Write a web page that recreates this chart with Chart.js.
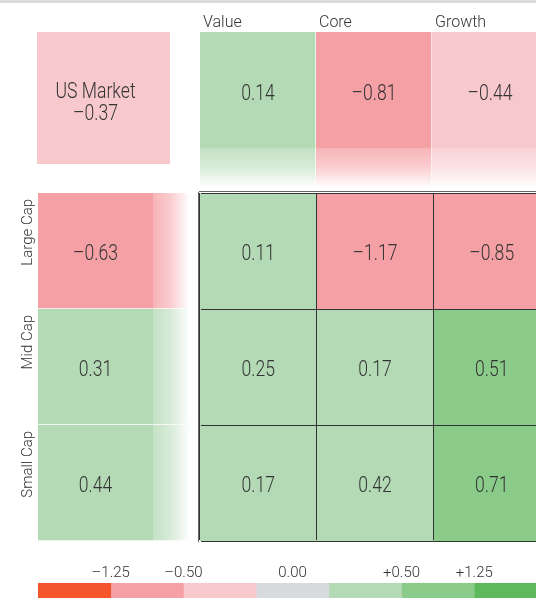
<!DOCTYPE html>
<html>
<head>
<meta charset="utf-8">
<script src="https://cdn.jsdelivr.net/npm/chart.js@4.4.1/dist/chart.umd.min.js"></script>
<style>
  body { margin: 0; width: 536px; height: 598px; overflow: hidden; position: relative; background: #fff; }
  canvas { position: absolute; }
  #band { position: absolute; left: 0; top: 0; width: 536px; height: 3px; background: #dcdcdc; }
</style>
</head>
<body>
<div id="band"></div>
<canvas id="top" width="348" height="188" style="left:200px;top:0px"></canvas>
<canvas id="market" width="133" height="132" style="left:37px;top:32px"></canvas>
<canvas id="left" width="190" height="348" style="left:0px;top:193px"></canvas>
<canvas id="grid" width="352" height="352" style="left:198px;top:191px"></canvas>
<canvas id="key" width="509" height="38" style="left:38px;top:560px"></canvas>
<script>
// data
var styles = ['Value', 'Core', 'Growth'];
var sizes = ['Large Cap', 'Mid Cap', 'Small Cap'];
var marketName = 'US Market';
var marketValue = -0.37;
var styleTotals = [0.14, -0.81, -0.44];
var sizeTotals = [-0.63, 0.31, 0.44];
var largeRow = [0.11, -1.17, -0.85];
var midRow = [0.25, 0.17, 0.51];
var smallRow = [0.17, 0.42, 0.71];
var keyColors = ['#F4552B', '#F5A0A5', '#F7C8CC', '#D7DBDD', '#B4DAB5', '#8ACB8A', '#5DB95C'];
var keyLabels = ['\u20131.25', '\u20130.50', '0.00', '+0.50', '+1.25'];
var keyLabelPos = [1, 2, 3.5, 5, 6];

var FONT = "Roboto, 'Liberation Sans', sans-serif";
var TEXT = '#333';
Chart.defaults.font.family = FONT;
Chart.defaults.font.weight = 300;
Chart.defaults.color = TEXT;

function colorFor(v) {
  if (v <= -1.25) return keyColors[0];
  if (v <= -0.5) return keyColors[1];
  if (v < 0) return keyColors[2];
  if (v === 0) return keyColors[3];
  if (v < 0.5) return keyColors[4];
  if (v < 1.25) return keyColors[5];
  return keyColors[6];
}

function fmt(v) {
  return (v < 0 ? '\u2013' : '') + Math.abs(v).toFixed(2);
}

function rgba(hex, a) {
  var n = parseInt(hex.slice(1), 16);
  return 'rgba(' + (n >> 16) + ',' + ((n >> 8) & 255) + ',' + (n & 255) + ',' + a + ')';
}

// solid square, then a paler strip that fades out
function fadeFill(dir, solid) {
  return function(c) {
    var col = colorFor(c.dataset.values[c.dataIndex]);
    var a = c.chart.chartArea;
    if (!a) return col;
    var g = dir === 'x'
      ? c.chart.ctx.createLinearGradient(a.left, 0, a.right, 0)
      : c.chart.ctx.createLinearGradient(0, a.top, 0, a.bottom);
    g.addColorStop(0, col);
    g.addColorStop(solid, col);
    g.addColorStop(solid + 0.003, rgba(col, 0.78));
    g.addColorStop(solid + (1 - solid) * 0.45, rgba(col, 0.55));
    g.addColorStop(1, rgba(col, 0));
    return g;
  };
}

// numbers inside the boxes, in a narrowed light face
var cellText = {
  id: 'cellText',
  afterDatasetsDraw: function(chart, args, o) {
    var ctx = chart.ctx;
    var size = o.size || 22;
    ctx.save();
    ctx.font = '300 ' + size + 'px ' + FONT;
    ctx.fillStyle = TEXT;
    ctx.textAlign = 'center';
    ctx.textBaseline = 'alphabetic';
    var solid = o.solid || 1;
    chart.data.datasets.forEach(function(ds, di) {
      chart.getDatasetMeta(di).data.forEach(function(bar, i) {
        var p = bar.getProps(['x', 'y', 'base', 'horizontal'], true);
        var cx, cy;
        if (p.horizontal) { cx = p.base + (p.x - p.base) * solid / 2; cy = p.y; }
        else { cx = p.x; cy = p.y + (p.base - p.y) * solid / 2; }
        var lines = ds.lines ? ds.lines : [fmt(ds.values[i])];
        lines.forEach(function(t, k) {
          ctx.save();
          ctx.translate(cx + (o.dx || 0),
            cy + (o.dy || 0) + (k - (lines.length - 1) / 2) * (o.lineHeight || 0) + size * 0.355);
          ctx.scale(0.8, 1);
          ctx.fillText(t, 0, 0);
          ctx.restore();
        });
      });
    });
    ctx.restore();
  }
};

var base = {
  responsive: false,
  animation: false,
  devicePixelRatio: 1,
  layout: { padding: 0 },
  datasets: { bar: { categoryPercentage: 1, barPercentage: 1 } }
};
var quiet = { legend: { display: false }, tooltip: { enabled: false } };
function hidden(extra) { return Object.assign({ display: false }, extra); }

// style totals across the top
new Chart(document.getElementById('top'), {
  type: 'bar',
  data: {
    labels: styles,
    datasets: [{
      data: styles.map(function() { return 1; }),
      values: styleTotals,
      backgroundColor: fadeFill('y', 0.744),
      borderColor: '#fff',
      borderWidth: { top: 0, right: 1, bottom: 0, left: 0 },
      borderSkipped: false
    }]
  },
  options: Object.assign({}, base, {
    scales: {
      x: {
        position: 'top',
        grid: { display: false, drawTicks: false },
        border: { display: false },
        ticks: { align: 'start', labelOffset: -55, padding: -1, font: { size: 16 } },
        afterFit: function(s) { s.height = 32; s.paddingLeft = 0; s.paddingRight = 0; }
      },
      y: hidden({ min: 0, max: 1 })
    },
    plugins: Object.assign({ cellText: { size: 22, solid: 0.744, dy: 2 } }, quiet)
  }),
  plugins: [cellText]
});

// whole market
new Chart(document.getElementById('market'), {
  type: 'bar',
  data: {
    labels: [marketName],
    datasets: [{
      data: [1],
      values: [marketValue],
      lines: [marketName, fmt(marketValue)],
      backgroundColor: colorFor(marketValue),
      borderWidth: 0
    }]
  },
  options: Object.assign({}, base, {
    scales: { x: hidden(), y: hidden({ min: 0, max: 1 }) },
    plugins: Object.assign({ cellText: { size: 22, dx: -8, dy: 3, lineHeight: 22 } }, quiet)
  }),
  plugins: [cellText]
});

// size totals down the left
new Chart(document.getElementById('left'), {
  type: 'bar',
  data: {
    labels: sizes,
    datasets: [{
      data: sizes.map(function() { return 1; }),
      values: sizeTotals,
      backgroundColor: fadeFill('x', 0.757),
      borderColor: '#fff',
      borderWidth: { top: 0, right: 0, bottom: 1, left: 0 },
      borderSkipped: false
    }]
  },
  options: Object.assign({}, base, {
    indexAxis: 'y',
    scales: {
      x: hidden({ min: 0, max: 1 }),
      y: {
        grid: { display: false, drawTicks: false },
        border: { display: false },
        ticks: { minRotation: 90, maxRotation: 90, padding: 10, labelOffset: -52, font: { size: 15 } },
        afterFit: function(s) { s.width = 38; s.paddingTop = 0; s.paddingBottom = 0; }
      }
    },
    plugins: Object.assign({ cellText: { size: 22, solid: 0.757, dy: 1 } }, quiet)
  }),
  plugins: [cellText]
});

// the 3x3 style box
var rows = [largeRow, midRow, smallRow];
new Chart(document.getElementById('grid'), {
  type: 'bar',
  data: {
    labels: styles,
    datasets: rows.map(function(r, i) {
      return {
        label: sizes[i],
        data: r.map(function() { return 1; }),
        values: r,
        backgroundColor: r.map(colorFor),
        borderWidth: 0
      };
    })
  },
  options: Object.assign({}, base, {
    layout: { padding: { left: 2, top: 2, bottom: 2, right: 0 } },
    scales: {
      x: {
        stacked: true, z: 1,
        ticks: { display: false },
        grid: { color: '#333', offset: true, drawTicks: false, z: 1 },
        border: { color: '#666', width: 2 }
      },
      y: {
        stacked: true, reverse: true, min: 0, max: 3, z: 1,
        ticks: { display: false, stepSize: 1 },
        grid: { color: '#333', drawTicks: false, z: 1 },
        border: { color: '#666', width: 2 }
      }
    },
    plugins: Object.assign({ cellText: { size: 22, dy: 1 } }, quiet)
  }),
  plugins: [cellText]
});

// colour key
new Chart(document.getElementById('key'), {
  type: 'bar',
  data: {
    labels: [''],
    datasets: keyColors.map(function(c) {
      return { data: [1], backgroundColor: c, borderWidth: 0 };
    })
  },
  options: Object.assign({}, base, {
    indexAxis: 'y',
    scales: {
      x: {
        stacked: true, position: 'top', min: 0, max: keyColors.length,
        grid: { display: false, drawTicks: false },
        border: { display: false },
        afterBuildTicks: function(s) { s.ticks = keyLabelPos.map(function(v) { return { value: v }; }); },
        ticks: {
          autoSkip: false, maxRotation: 0, padding: 1, font: { size: 15 },
          callback: function(v, i) { return keyLabels[i]; }
        },
        afterFit: function(s) { s.height = 23; s.paddingLeft = 0; s.paddingRight = 0; }
      },
      y: hidden({ stacked: true })
    },
    plugins: quiet
  })
});
</script>
</body>
</html>
